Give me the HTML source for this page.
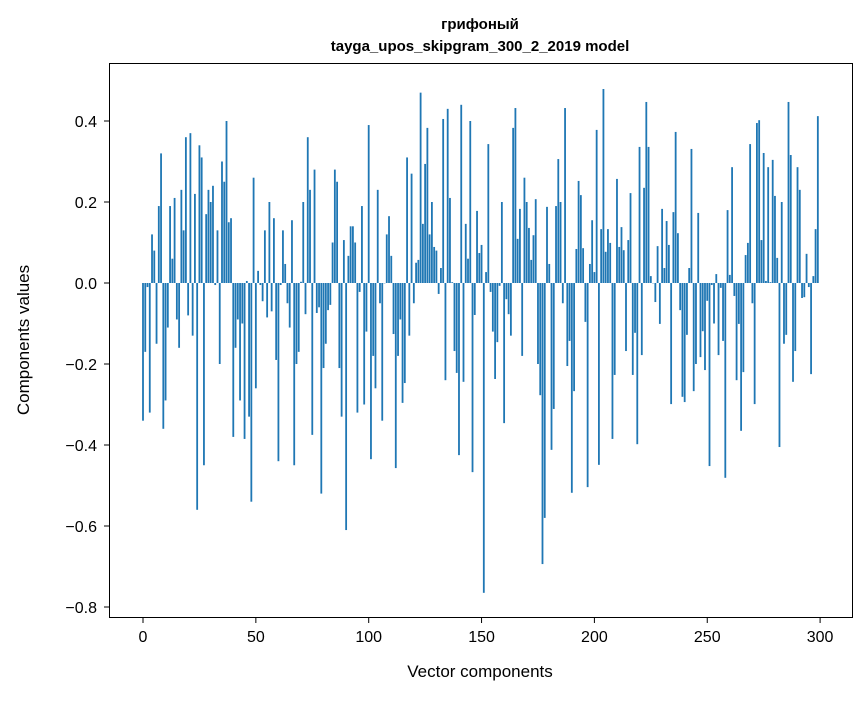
<!DOCTYPE html>
<html><head><meta charset="utf-8"><style>
body{margin:0;background:#fff;}
svg text{font-family:"Liberation Sans","DejaVu Sans",sans-serif;fill:#000;}
</style></head><body>
<svg id="chart" width="867" height="696" viewBox="0 0 867 696" xmlns="http://www.w3.org/2000/svg">
<rect width="867" height="696" fill="#fff"/>
<text x="480" y="29" text-anchor="middle" font-size="15" font-weight="bold">грифоный</text>
<text x="480" y="51" text-anchor="middle" font-size="15" font-weight="bold">tayga_upos_skipgram_300_2_2019 model</text>
<g id="bars"></g>
<rect x="109.5" y="63.5" width="743" height="554" fill="none" stroke="#000" stroke-width="1"/>
<g id="xaxis"></g>
<g id="yaxis"></g>
<text x="480" y="677" text-anchor="middle" font-size="17">Vector components</text>
<text transform="translate(29,340) rotate(-90)" text-anchor="middle" font-size="17">Components values</text>
</svg>
<script>
const values = [
-0.34,-0.17,-0.01,-0.32,0.12,0.08,-0.15,0.19,0.32,-0.36,
-0.29,-0.11,0.19,0.06,0.21,-0.09,-0.16,0.23,0.13,0.36,
-0.08,0.37,-0.13,0.22,-0.56,0.34,0.31,-0.45,0.17,0.23,
0.2,0.24,-0.005,0.13,-0.2,0.3,0.25,0.4,0.15,0.16,
-0.38,-0.16,-0.09,-0.29,-0.1,-0.385,0.005,-0.33,-0.54,0.26,
-0.26,0.03,-0.005,-0.045,0.13,-0.085,0.2,-0.07,0.16,-0.19,
-0.44,-0.005,0.13,0.047,-0.05,-0.11,0.155,-0.45,-0.2,-0.17,
0.003,0.2,-0.077,0.36,0.23,-0.375,0.28,-0.074,-0.06,-0.52,
-0.21,-0.15,-0.067,-0.054,0.1,0.28,0.25,-0.21,-0.33,0.106,
-0.61,0.067,0.14,0.14,0.1,-0.32,-0.022,0.19,-0.3,-0.12,
0.39,-0.435,-0.18,-0.26,0.23,-0.05,-0.34,0,0.12,0.165,
0.067,-0.126,-0.457,-0.18,-0.09,-0.296,-0.247,0.31,-0.13,0.27,
-0.05,0.05,0.057,0.47,0.146,0.294,0.383,0.12,0.2,0.089,
0.08,-0.027,0.037,0.405,-0.24,0.43,0.21,0.002,-0.168,-0.222,
-0.425,0.44,-0.244,0.146,0.06,0.4,-0.467,-0.079,0.178,0.074,
0.094,-0.765,0.027,0.343,-0.022,-0.12,-0.237,-0.146,-0.007,0.2,
-0.346,-0.04,-0.077,-0.13,0.383,0.432,0.109,0.183,-0.18,0.26,
0.2,0.136,0.057,0.118,0.207,-0.2,-0.277,-0.694,-0.58,0.188,
0.047,-0.412,-0.311,0.19,0.306,0.2,-0.05,0.432,-0.205,-0.143,
-0.518,-0.267,0.084,0.252,0.217,0.086,-0.096,-0.504,0.047,0.155,
0.027,0.378,-0.449,0.133,0.479,0.077,0.133,0.099,-0.385,-0.227,
0.257,0.089,0.138,0.081,-0.168,0.106,0.222,-0.227,-0.123,-0.398,
0.336,-0.178,0.235,0.447,0.336,0.017,0,-0.047,0.091,-0.101,
0.183,0.037,0.153,0.094,-0.299,0.175,0.373,0.123,-0.067,-0.281,
-0.294,-0.128,0.037,0.331,-0.267,-0.2,0.173,-0.183,-0.119,-0.215,
-0.044,-0.452,-0.005,-0.1,0.022,-0.178,-0.012,-0.143,-0.481,0.18,
0.02,0.286,-0.032,-0.24,-0.101,-0.365,-0.22,0.069,0.099,0.343,
-0.05,-0.299,0.395,0.402,0.106,0.321,0.005,0.286,0.002,0.304,
0.215,0.062,-0.405,0.2,-0.15,-0.128,0.447,0.316,-0.244,-0.168,
0.286,0.23,-0.037,-0.035,0.072,-0.01,-0.225,0.017,0.133,0.412
];
const xTicks = [0, 50, 100, 150, 200, 250, 300];
const yTicks = [0.4, 0.2, 0.0, -0.2, -0.4, -0.6, -0.8];
const yTickLabels = ["0.4", "0.2", "0.0", "\u22120.2", "\u22120.4", "\u22120.6", "\u22120.8"];

const NS = "http://www.w3.org/2000/svg";
function xScale(i){ return 143 + i * 2.257; }
function yScale(v){ return 283 - v * 405; }

const barsG = document.getElementById('bars');
const bw = 2.257 * 0.8;
values.forEach((v, i) => {
  const r = document.createElementNS(NS, 'rect');
  const y0 = yScale(0), y1 = yScale(v);
  r.setAttribute('x', xScale(i) - bw / 2);
  r.setAttribute('y', Math.min(y0, y1));
  r.setAttribute('width', bw);
  r.setAttribute('height', Math.max(Math.abs(y1 - y0), 0.3));
  r.setAttribute('fill', '#1f77b4');
  
  
  barsG.appendChild(r);
});

const xg = document.getElementById('xaxis');
xTicks.forEach(t => {
  const x = xScale(t);
  const l = document.createElementNS(NS, 'line');
  l.setAttribute('x1', x); l.setAttribute('x2', x);
  l.setAttribute('y1', 618); l.setAttribute('y2', 623);
  l.setAttribute('stroke', '#000');
  
  
  xg.appendChild(l);
  const tx = document.createElementNS(NS, 'text');
  tx.setAttribute('x', x); tx.setAttribute('y', 642);
  tx.setAttribute('text-anchor', 'middle');
  tx.setAttribute('font-size', '16');
  tx.textContent = String(t);
  
  
  xg.appendChild(tx);
});

const yg = document.getElementById('yaxis');
yTicks.forEach((t, k) => {
  const y = yScale(t);
  const l = document.createElementNS(NS, 'line');
  l.setAttribute('x1', 104); l.setAttribute('x2', 109);
  l.setAttribute('y1', y); l.setAttribute('y2', y);
  l.setAttribute('stroke', '#000');
  
  
  yg.appendChild(l);
  const tx = document.createElementNS(NS, 'text');
  tx.setAttribute('x', 97); tx.setAttribute('y', y + 6);
  tx.setAttribute('text-anchor', 'end');
  tx.setAttribute('font-size', '16');
  tx.textContent = yTickLabels[k];
  
  
  yg.appendChild(tx);
});
</script>
</body></html>
